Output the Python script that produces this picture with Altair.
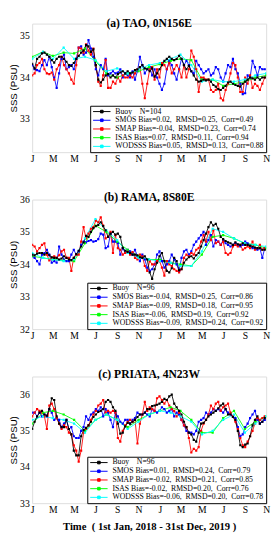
import altair as alt
import pandas as pd

SOURCES = ["Buoy", "SMOS", "SMAP", "ISAS", "WODSSS"]
COLORS = ["#000000", "#0000ff", "#ff0000", "#00ff00", "#00ffff"]
DRAW_ORDER = ["SMOS", "SMAP", "ISAS", "WODSSS", "Buoy"]

WEEKS = [d.strftime("%Y-%m-%d") for d in pd.date_range("2018-01-01", periods=96, freq="7D")]
MONTHS = [d.strftime("%Y-%m-%d") for d in pd.date_range("2018-01-01", "2019-11-01", freq="MS")]
TICK_MONTHS = [(2018, m) for m in (1, 3, 5, 7, 9, 11)] + [(2019, m) for m in (1, 3, 5, 7, 9, 11)]

# ---------------- (a) TAO ----------------
TAO_BUOY = [34.33,34.22,34.45,34.5,34.58,34.6,34.55,34.5,34.42,34.36,
            34.45,34.5,34.5,34.45,34.38,34.3,34.28,34.35,34.45,34.52,
            34.6,34.65,34.78,34.75,34.62,34.68,34.3,33.95,33.88,33.95,
            34.05,34.08,34.0,34.05,34.0,34.08,34.12,34.15,34.1,34.15,
            34.1,34.12,34.18,34.2,34.25,34.3,34.22,34.2,34.15,34.22,
            34.02,34.1,34.2,34.3,34.4,34.45,34.5,34.45,34.42,34.45,
            34.52,34.45,34.3,34.2,34.28,34.15,34.05,33.95,33.9,33.92,
            33.95,33.93,33.95,33.9,33.82,33.78,33.72,33.7,33.75,33.8,
            33.88,33.9,33.85,33.82,33.8,33.78,33.85,33.9,33.95,34.0,
            33.98,33.95,34.0,33.95,34.0,34.0]
TAO_SMOS = [34.3,34.2,34.18,34.15,34.3,34.42,34.3,34.5,34.25,34.0,
            33.75,34.1,34.45,34.55,34.2,34.25,34.3,34.2,34.45,34.72,
            34.75,34.55,34.6,34.9,34.7,34.5,34.2,34.05,34.3,34.2,
            34.45,34.05,34.1,34.15,34.1,34.12,34.2,34.0,34.1,34.05,
            34.0,34.15,33.95,34.15,34.5,34.3,34.1,34.2,34.25,34.05,
            34.2,34.0,33.85,33.7,33.85,34.2,34.4,34.3,34.1,33.95,
            34.2,34.45,34.3,34.4,34.3,34.15,34.1,34.4,34.3,34.2,
            34.1,34.15,34.2,34.05,34.1,34.25,34.2,34.0,33.9,34.1,
            34.3,34.25,34.45,34.2,34.1,33.85,33.6,33.62,34.05,34.0,
            34.4,34.25,34.05,34.25,34.2,34.2]
TAO_SMAP = [34.05,34.1,34.3,34.35,34.45,34.2,34.1,34.08,34.12,33.95,
            34.2,34.3,34.5,34.3,34.2,34.1,33.95,33.85,34.3,34.72,
            34.7,34.6,34.8,34.65,34.55,34.7,34.3,33.9,33.8,34.05,
            34.42,33.75,33.75,33.9,33.85,34.0,33.9,34.05,34.0,34.0,
            34.05,34.0,34.1,34.2,34.25,33.85,33.5,33.85,34.2,34.25,
            33.95,34.2,34.0,34.35,34.3,34.2,34.35,34.1,34.2,34.3,
            34.2,34.0,34.3,34.0,34.2,34.65,34.5,34.2,33.65,34.0,
            34.0,33.95,33.95,33.7,33.65,33.7,33.85,33.5,33.45,33.7,
            33.85,34.1,34.35,34.3,34.0,33.65,33.65,34.0,33.85,34.05,
            33.75,33.85,33.8,33.7,33.85,34.0]
TAO_ISAS = [34.5,34.62,34.52,34.6,34.58,34.7,34.4,34.1,34.0,34.1,34.15,34.25,
            34.32,34.4,34.45,34.42,33.95,33.95,33.8,33.85,33.9,34.0,34.05]
TAO_WOD = [34.45,34.62,34.45,34.72,34.45,34.5,34.42,34.15,34.22,34.1,34.2,34.3,
           34.35,34.45,34.55,34.3,33.9,33.95,33.9,33.9,33.95,34.05,34.1]

# ---------------- (b) RAMA ----------------
RAMA_BUOY = [34.3,34.28,34.33,34.35,34.35,34.3,34.35,34.28,34.22,34.2,
             34.2,34.15,34.18,34.25,34.2,34.15,34.13,34.2,34.32,34.42,
             34.55,34.68,34.88,34.85,35.0,35.12,35.18,35.22,35.3,35.18,
             35.05,34.85,34.95,35.0,34.92,34.95,34.85,34.5,34.42,34.38,
             34.35,34.3,34.3,34.28,34.22,34.2,34.25,34.15,33.75,33.55,
             33.85,34.05,34.25,34.35,34.1,33.8,33.75,33.88,34.2,34.1,
             33.82,33.85,34.05,34.15,34.22,34.25,34.18,34.28,34.35,34.55,
             34.75,34.95,35.15,35.3,35.2,35.25,35.1,34.85,34.78,34.72,
             34.68,34.65,34.6,34.68,34.62,34.6,34.65,34.6,34.6,34.58,
             34.55,34.52,34.5,34.5,34.45,34.45]
RAMA_SMOS = [34.25,34.2,34.1,34.0,34.3,34.35,34.45,34.3,34.05,34.1,
             34.05,34.55,34.3,34.15,34.1,34.1,34.3,34.45,34.3,34.4,
             34.6,34.7,34.68,34.72,34.75,34.7,34.72,34.78,34.95,34.92,
             34.5,34.55,34.95,34.7,34.7,34.65,34.3,34.5,34.35,34.45,
             34.4,34.3,34.45,34.25,34.1,34.3,34.15,33.9,33.8,33.85,
             34.0,34.3,34.4,34.1,33.9,34.0,34.1,34.3,34.15,34.0,
             33.8,34.2,34.4,34.45,34.3,34.4,34.6,34.7,34.8,34.9,
             35.0,34.6,34.75,34.9,34.55,34.75,34.7,34.6,34.75,34.65,
             34.6,34.55,34.6,34.65,34.6,34.55,34.6,34.7,34.65,34.55,
             34.5,34.5,34.45,34.5,34.2,34.5]
RAMA_SMAP = [34.6,34.55,34.4,34.5,34.6,34.65,34.3,34.12,34.2,34.25,
             34.2,34.28,34.4,34.45,34.2,34.2,33.8,34.2,34.3,34.3,
             34.7,35.15,34.8,34.95,35.1,35.15,35.35,35.3,35.45,35.2,
             34.8,34.85,35.0,34.35,34.9,34.5,34.45,34.3,34.35,34.4,
             34.3,34.38,34.2,34.15,34.3,34.25,33.95,33.8,34.1,34.0,
             34.0,34.1,34.1,33.9,33.65,34.1,34.0,33.95,33.85,33.8,
             33.75,33.85,34.2,34.3,34.25,34.35,34.3,34.45,34.5,34.7,
             34.9,34.7,35.0,34.75,35.05,34.65,34.7,34.6,34.7,34.35,
             34.3,34.35,34.55,34.6,34.55,34.6,34.45,34.5,34.55,34.5,
             34.7,34.45,34.5,34.6,34.45,34.5]
RAMA_ISAS = [34.25,34.2,34.15,34.12,34.1,34.65,35.2,35.0,34.7,34.45,34.25,34.15,
             34.15,34.05,34.0,33.95,34.3,34.85,34.9,34.8,34.65,34.6,34.5]
RAMA_WOD = [34.35,34.2,34.15,34.1,34.15,34.8,35.4,35.05,34.75,34.35,34.2,34.15,
            34.1,34.05,33.95,33.95,34.4,35.1,35.0,34.8,34.65,34.6,34.55]

# ---------------- (c) PIRATA ----------------
PIR_BUOY = [35.05,35.25,35.4,35.5,35.55,35.45,35.42,35.6,35.9,35.85,
            35.4,35.2,35.1,35.1,35.3,35.05,34.9,34.45,34.32,34.32,
            34.85,35.02,35.08,35.15,35.25,35.38,35.45,35.52,35.55,35.6,
            35.8,35.85,35.8,35.65,35.55,35.2,34.92,34.95,35.12,35.22,
            35.2,35.25,35.3,35.38,35.45,35.45,35.5,35.6,35.6,35.68,
            35.7,35.72,35.75,35.8,35.88,35.85,35.95,36.0,35.75,35.65,
            35.55,35.45,35.25,35.1,34.95,34.9,34.75,34.7,34.95,35.2,
            35.22,35.3,35.4,35.45,35.5,35.55,35.62,35.7,35.75,35.6,
            35.45,35.45,35.38,35.3,35.0,34.6,34.55,34.62,34.65,34.85,
            35.15,35.3,35.4,35.2,35.25,35.35]
PIR_SMOS = [35.5,35.5,35.4,35.5,35.4,35.45,35.4,35.6,35.5,35.3,
            35.35,35.3,35.1,35.2,35.3,35.05,35.1,34.85,34.8,34.8,
            35.0,35.1,35.4,35.3,35.45,35.5,35.6,35.55,35.65,35.4,
            35.6,35.5,35.3,35.1,35.5,35.4,35.25,35.2,35.3,35.3,
            35.2,35.3,35.35,35.5,35.45,35.45,35.5,35.45,35.4,35.6,
            35.55,35.5,35.55,35.65,35.6,35.5,35.55,35.6,35.4,35.5,
            35.45,35.3,35.15,35.0,34.95,34.95,34.9,35.0,35.25,35.3,
            35.35,35.5,35.45,35.5,35.6,35.55,35.6,35.55,35.5,35.6,
            35.5,35.45,35.4,35.35,35.1,34.85,34.9,35.1,35.2,35.35,
            35.45,35.55,35.3,35.2,35.25,35.3]
PIR_SMAP = [35.4,35.5,35.6,35.55,35.5,35.4,35.05,35.7,35.75,35.6,
            35.35,35.2,35.05,35.15,35.1,34.95,34.9,34.6,34.45,34.15,
            34.45,34.95,35.05,35.15,35.3,35.45,35.55,35.7,35.75,35.85,
            35.5,35.55,35.5,35.55,35.5,34.8,34.7,35.0,35.15,35.25,
            35.3,35.25,35.3,34.65,35.2,35.45,35.8,35.55,35.65,35.6,
            35.55,35.9,35.95,35.85,35.75,35.85,35.7,35.6,35.55,35.4,
            35.5,35.3,35.15,35.1,34.8,34.4,34.5,34.45,34.55,35.0,
            35.2,35.3,35.45,35.7,35.6,35.75,35.8,35.55,35.65,35.7,
            35.75,35.5,35.4,35.25,35.05,34.8,34.6,34.55,34.7,34.85,
            35.0,35.2,35.35,35.3,35.35,35.4]
PIR_ISAS = [35.2,35.5,35.55,35.45,35.3,35.0,35.3,35.45,35.3,35.1,35.3,35.45,
            35.55,35.65,35.55,35.3,34.95,34.95,35.35,35.55,35.05,35.25,35.4]
PIR_WOD = [35.3,35.4,35.35,35.3,35.2,34.95,35.3,35.45,35.3,35.05,35.25,35.45,
           35.55,35.5,35.4,35.25,34.9,35.0,35.3,35.45,34.95,35.2,35.4]

S = "\u00a0"
def stats_label(name, bias, rmsd, corr):
    return f"{name}{S}Bias={bias},{S}{S}RMSD={rmsd},{S}{S}Corr={corr}"

LABELS_A = ["Buoy" + S * 4 + "N=104",
            stats_label("SMOS", "0.02", "0.25", "0.49"),
            stats_label("SMAP", "-0.04", "0.23", "0.74"),
            stats_label("ISAS", "0.07", "0.11", "0.94"),
            stats_label("WODSSS", "0.05", "0.13", "0.88")]
LABELS_B = ["Buoy" + S * 4 + "N=96",
            stats_label("SMOS", "-0.04", "0.25", "0.86"),
            stats_label("SMAP", "-0.09", "0.18", "0.95"),
            stats_label("ISAS", "-0.06", "0.19", "0.92"),
            stats_label("WODSSS", "-0.09", "0.24", "0.92")]
LABELS_C = ["Buoy" + S * 4 + "N=96",
            stats_label("SMOS", "0.01", "0.24", "0.79"),
            stats_label("SMAP", "-0.02", "0.21", "0.85"),
            stats_label("ISAS", "-0.02", "0.20", "0.76"),
            stats_label("WODSSS", "-0.06", "0.20", "0.78")]

SERIF = "Liberation Serif"
SANS = "Liberation Sans"
W = 242
LEGEND_SYMBOL = "M-3,0H3M-0.45,-0.45H0.45V0.45H-0.45Z"


def panel(title, labels, series, ydomain, yticks, xtitle, height, title_offset):
    rows = []
    for name in DRAW_ORDER:
        i = SOURCES.index(name)
        vals = series[name]
        dates = WEEKS if len(vals) == len(WEEKS) else MONTHS
        for d, v in zip(dates, vals):
            rows.append({"date": d, "sss": v, "label": labels[i]})
    df = pd.DataFrame(rows)
    x = alt.X("date:T",
              scale=alt.Scale(type="utc",
                              domain=[alt.DateTime(year=2018, month=1, date=1, utc=True),
                                      alt.DateTime(year=2019, month=11, date=1, utc=True)]),
              axis=alt.Axis(title=xtitle if xtitle else None,
                            values=[alt.DateTime(year=yy, month=mm, date=1, utc=True)
                                    for yy, mm in TICK_MONTHS],
                            labelExpr="slice(utcFormat(datum.value, '%b'), 0, 1)",
                            labelFont=SERIF, labelFontSize=10, labelPadding=2,
                            titleFont=SERIF, titleFontSize=11, titleFontWeight="bold",
                            titlePadding=6, ticks=False, grid=False, domain=False,
                            labelFlush=False))
    y = alt.Y("sss:Q", scale=alt.Scale(domain=ydomain, nice=False, zero=False),
              axis=alt.Axis(title="SSS (PSU)", values=yticks, format="d",
                            labelFont=SERIF, labelFontSize=10, labelPadding=3,
                            titleFont=SANS, titleFontSize=10, titleFontWeight="normal",
                            titlePadding=1, ticks=False, grid=False, domain=False))
    color_line = alt.Color("label:N",
                           scale=alt.Scale(domain=labels, range=COLORS),
                           legend=alt.Legend(title=None, orient="bottom-right", offset=0,
                                             padding=2, strokeColor="black", fillColor="white",
                                             cornerRadius=0, labelFont=SERIF, labelFontSize=8,
                                             labelLimit=0, rowPadding=1,
                                             symbolType=LEGEND_SYMBOL, symbolSize=36,
                                             symbolStrokeWidth=1, symbolOffset=6,
                                             labelOffset=10))
    color_pts = alt.Color("label:N", scale=alt.Scale(domain=labels, range=COLORS), legend=None)
    line = alt.Chart(df).mark_line(strokeWidth=0.9, clip=True).encode(
        x=x, y=y, color=color_line, detail="label:N")
    pts = alt.Chart(df).mark_square(size=5, opacity=1, clip=True).encode(
        x=x, y=y, color=color_pts)
    return alt.layer(line, pts).properties(
        width=W, height=height,
        title=alt.TitleParams(title, font=SERIF, fontSize=12, fontWeight="bold",
                              offset=title_offset, anchor="middle"))


pa = panel("(a) TAO, 0N156E", LABELS_A,
           {"Buoy": TAO_BUOY, "SMOS": TAO_SMOS, "SMAP": TAO_SMAP, "ISAS": TAO_ISAS, "WODSSS": TAO_WOD},
           [32.2, 35.3], [33, 34, 35], None, 133, -7)
pb = panel("(b) RAMA, 8S80E", LABELS_B,
           {"Buoy": RAMA_BUOY, "SMOS": RAMA_SMOS, "SMAP": RAMA_SMAP, "ISAS": RAMA_ISAS, "WODSSS": RAMA_WOD},
           [32, 36], [32, 33, 34, 35, 36], None, 134, -9)
pc = panel("(c) PRIATA, 4N23W", LABELS_C,
           {"Buoy": PIR_BUOY, "SMOS": PIR_SMOS, "SMAP": PIR_SMAP, "ISAS": PIR_ISAS, "WODSSS": PIR_WOD},
           [33, 36.5], [33, 34, 35, 36], "Time" + S * 2 + "(" + S + "1st Jan, 2018 - 31st Dec, 2019" + S + ")",
           131, -5)

chart = alt.vconcat(pa, pb, pc, spacing=49, bounds="flush").resolve_scale(color="independent").properties(
    padding=0
).configure_view(stroke="black", strokeWidth=1).configure(background="white")

chart.save("out.html", embed_options={"renderer": "svg", "actions": False})
